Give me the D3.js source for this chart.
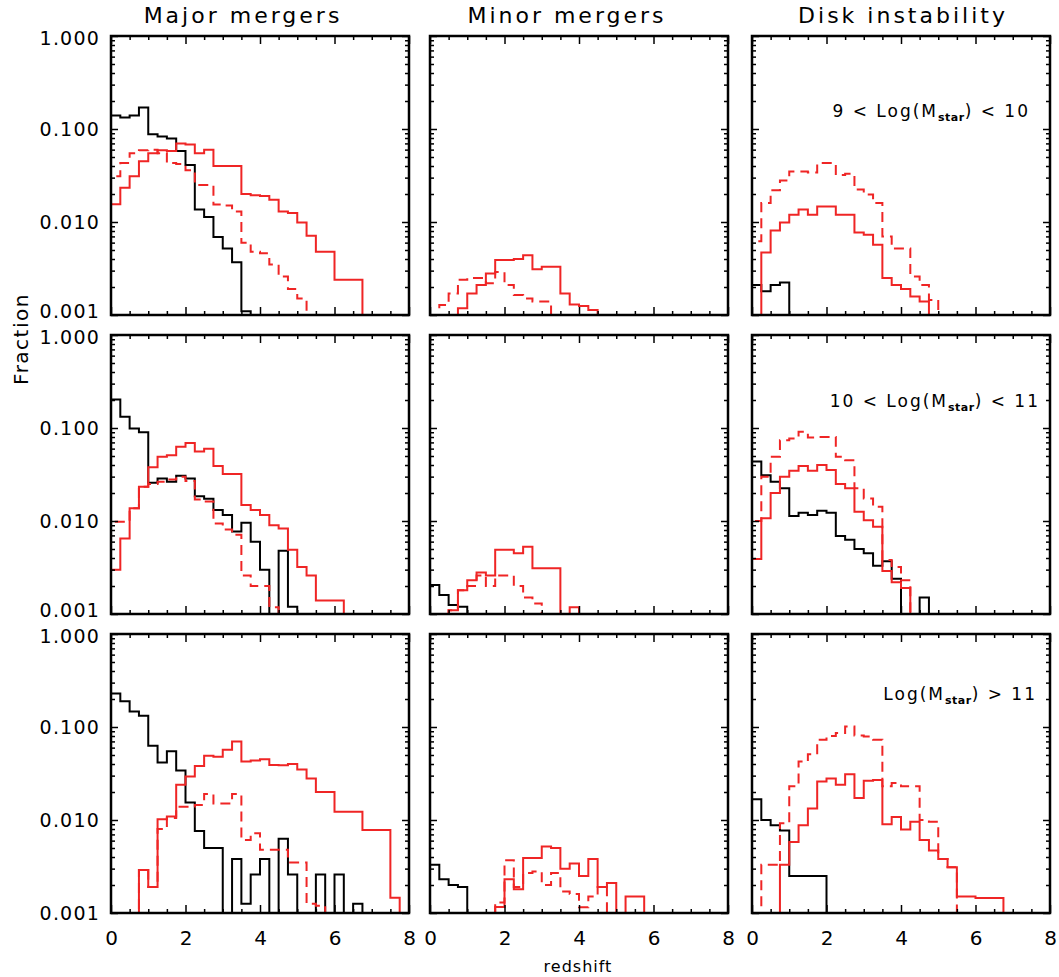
<!DOCTYPE html>
<html>
<head>
<meta charset="utf-8">
<script src="https://cdn.jsdelivr.net/npm/d3@7"></script>
<style>
body { margin: 0; background: #fff; }
svg text { font-family: "DejaVu Sans", sans-serif; fill: #000; }
.title { font-size: 22px; letter-spacing: 3px; }
.ylab text { font-size: 19px; letter-spacing: 1.2px; }
.xlab text { font-size: 20px; }
.mass { font-size: 17px; letter-spacing: 2px; }
.mass .sub { font-size: 11px; font-weight: bold; letter-spacing: 0.5px; }
</style>
</head>
<body>
<div id="chart"></div>
<script>
var W = 1059, H = 977;

// redshift bin edges shared by every histogram
var binEdges = [0, 0.25, 0.5, 0.75, 1, 1.25, 1.5, 1.75, 2, 2.25, 2.5, 2.75, 3, 3.25, 3.5, 3.75,
                4, 4.25, 4.5, 4.75, 5, 5.25, 5.5, 5.75, 6, 6.25, 6.5, 6.75, 7, 7.25, 7.5, 7.75, 8];

var columnTitles = ["Major mergers", "Minor mergers", "Disk instability"];
// mass bin labels: text before the subscript, subscript, text after
var massPre = ["9 < Log(M", "10 < Log(M", "Log(M"];
var massSub = ["star", "star", "star"];
var massPost = [") < 10", ") < 11", ") > 11"];

var yTickValues = [1, 0.1, 0.01, 0.001];
var xTickValues = [0, 2, 4, 6, 8];

// fraction per bin; bins past the end of a list are empty
// 9 < log M < 10
var majorLowBlack = [0.14, 0.133, 0.14, 0.17, 0.088, 0.083, 0.079, 0.058, 0.041, 0.0136, 0.0113, 0.0069, 0.0052, 0.0037, 0.0011];
var majorLowRed = [0.0155, 0.0233, 0.031, 0.045, 0.055, 0.059, 0.058, 0.070, 0.068, 0.055, 0.060, 0.040, 0.040, 0.040, 0.020, 0.0194,
                   0.019, 0.0174, 0.013, 0.0125, 0.0099, 0.0071, 0.0048, 0.0048, 0.0024, 0.0024, 0.0024];
var majorLowDash = [0.031, 0.043, 0.055, 0.059, 0.060, 0.055, 0.043, 0.042, 0.036, 0.025, 0.025, 0.0154, 0.015, 0.013, 0.006, 0.0048,
                    0.0046, 0.0035, 0.0026, 0.0019, 0.0015];
var minorLowBlack = [];
var minorLowRed = [0, 0, 0, 0.00118, 0.0017, 0.0021, 0.0028, 0.0039, 0.0039, 0.004, 0.0044, 0.0031, 0.0033, 0.0033, 0.0017, 0.0013, 0.00125, 0.00113];
var minorLowDash = [0, 0.00128, 0.0017, 0.0024, 0.0025, 0.0025, 0.0022, 0.0029, 0.0021, 0.00164, 0.0015, 0.0014, 0.0014];
var diskLowBlack = [0.0021, 0.0018, 0.0021, 0.00223];
var diskLowRed = [0, 0.0047, 0.0081, 0.0099, 0.012, 0.0136, 0.012, 0.0147, 0.0147, 0.012, 0.012, 0.0077, 0.0073, 0.0057, 0.0025, 0.0021,
                  0.0019, 0.00158, 0.0014];
var diskLowDash = [0.0062, 0.016, 0.0219, 0.028, 0.035, 0.035, 0.034, 0.043, 0.043, 0.032, 0.033, 0.0223, 0.0197, 0.016, 0.007, 0.0052,
                   0.0052, 0.0026, 0.0021, 0.00145];

// 10 < log M < 11
var majorMidBlack = [0.203, 0.132, 0.099, 0.090, 0.0258, 0.0286, 0.0265, 0.0307, 0.0286, 0.0184, 0.0173, 0.0131, 0.0116, 0.0077, 0.0096, 0.006,
                     0.003, 0, 0.0048, 0.0012];
var majorMidRed = [0.003, 0.0065, 0.0137, 0.0234, 0.0378, 0.049, 0.051, 0.063, 0.069, 0.056, 0.060, 0.039, 0.032, 0.032, 0.0149, 0.0131,
                   0.0116, 0.009, 0.0083, 0.0049, 0.0032, 0.0026, 0.0014, 0.0014, 0.0014];
var majorMidDash = [0.0098, 0.0098, 0.0137, 0.0234, 0.025, 0.0265, 0.028, 0.030, 0.027, 0.017, 0.0162, 0.0094, 0.0081, 0.0071, 0.0026, 0.002,
                    0.002, 0.00118];
var minorMidBlack = [0.00205, 0.0016, 0.00125, 0.0012];
var minorMidRed = [0, 0, 0.0011, 0.0018, 0.0023, 0.0028, 0.0026, 0.0049, 0.0049, 0.0045, 0.0053, 0.0031, 0.0031, 0.0031, 0, 0.00118];
var minorMidDash = [0, 0, 0.0011, 0.0018, 0.002, 0.0026, 0.002, 0.0026, 0.0026, 0.002, 0.0015, 0.0013];
var diskMidBlack = [0.0435, 0.031, 0.0265, 0.0225, 0.0113, 0.0123, 0.0116, 0.0129, 0.0123, 0.0069, 0.0063, 0.005, 0.0045, 0.0033, 0.0037, 0.0024,
                    0, 0, 0.0015];
var diskMidRed = [0.0039, 0.0107, 0.020, 0.030, 0.0346, 0.039, 0.0346, 0.040, 0.0354, 0.025, 0.0225, 0.0126, 0.0102, 0.0087, 0.0029, 0.0022, 0.0019];
var diskMidDash = [0.01, 0.030, 0.049, 0.074, 0.077, 0.091, 0.079, 0.080, 0.080, 0.049, 0.045, 0.0225, 0.0175, 0.0142, 0.0038, 0.0032, 0.0023];

// log M > 11
var majorHighBlack = [0.229, 0.189, 0.147, 0.132, 0.063, 0.0415, 0.055, 0.034, 0.0154, 0.0076, 0.005, 0.005, 0, 0.0038, 0.00126, 0.0026,
                      0.0038, 0, 0.0063, 0.0026, 0, 0, 0.0026, 0, 0.0026, 0, 0.00126];
var majorHighRed = [0, 0, 0, 0.0029, 0.0019, 0.0102, 0.0109, 0.024, 0.0293, 0.038, 0.049, 0.048, 0.057, 0.070, 0.0425, 0.0435,
                    0.045, 0.039, 0.0387, 0.040, 0.035, 0.028, 0.020, 0.020, 0.0123, 0.0123, 0.0123, 0.0078, 0.0078, 0.0078, 0.00146, 0];
var majorHighDash = [0, 0, 0, 0.0029, 0.0019, 0.008, 0.0105, 0.0139, 0.0139, 0.0145, 0.019, 0.015, 0.015, 0.019, 0.0061, 0.0072,
                     0.0048, 0.0048, 0.0048, 0.0035, 0.0035, 0.00126, 0.0012];
var minorHighBlack = [0.0033, 0.0023, 0.002, 0.0019];
var minorHighRed = [0, 0, 0, 0, 0, 0, 0, 0.00116, 0.0023, 0.0018, 0.0039, 0.0039, 0.0052, 0.005, 0.003, 0.0034,
                    0.0025, 0.0038, 0.0019, 0.0021, 0, 0.0015, 0.0015];
var minorHighDash = [0, 0, 0, 0, 0, 0, 0, 0.0013, 0.0037, 0.0019, 0.0027, 0.0028, 0.002, 0.0027, 0.0017, 0.0016,
                     0.00115, 0.0015, 0.0019];
var diskHighBlack = [0.0167, 0.01, 0.0088, 0.0077, 0.0025, 0.0025, 0.0025, 0.0025];
var diskHighRed = [0, 0, 0, 0.0033, 0.0058, 0.0088, 0.0133, 0.026, 0.028, 0.024, 0.031, 0.0172, 0.0264, 0.027, 0.009, 0.0108,
                   0.0079, 0.0096, 0.0061, 0.0047, 0.0038, 0.0031, 0.0015, 0.0015, 0.00145, 0.00145, 0.00145];
var diskHighDash = [0, 0.0033, 0.0033, 0.0092, 0.023, 0.0425, 0.051, 0.073, 0.080, 0.086, 0.101, 0.081, 0.079, 0.073, 0.023, 0.025,
                    0.023, 0.023, 0.01, 0.0096, 0.0038, 0.0031];

var panels = [
  [majorLowBlack, majorLowRed, majorLowDash], [minorLowBlack, minorLowRed, minorLowDash], [diskLowBlack, diskLowRed, diskLowDash],
  [majorMidBlack, majorMidRed, majorMidDash], [minorMidBlack, minorMidRed, minorMidDash], [diskMidBlack, diskMidRed, diskMidDash],
  [majorHighBlack, majorHighRed, majorHighDash], [minorHighBlack, minorHighRed, minorHighDash], [diskHighBlack, diskHighRed, diskHighDash]
];

// layout
var colX = [111, 430, 752], rowY = [36, 335, 634];
var pw = 298, ph = 279;
var titleX = [243, 567, 903];
var massRight = [-20, -10, -13], massBase = [81, 72, 66];
var red = "#ef2525";

var svg = d3.select("#chart").append("svg")
    .attr("width", W)
    .attr("height", H);

var x = d3.scaleLinear().domain([0, 8]).range([0, pw]);
var y = d3.scaleLog().domain([0.001, 1]).range([ph, 0]);

var yMinor = y.ticks().filter(function(d) { return yTickValues.indexOf(d) < 0; });
var xMinor = x.ticks(16).filter(function(d) { return xTickValues.indexOf(d) < 0; });

var step = d3.line()
    .x(function(d) { return x(d[0]); })
    .y(function(d) { return y(Math.max(d[1], 0.001)); })
    .curve(d3.curveStepAfter);

function histPoints(vals) {
    var n = binEdges.length - 1;
    var pts = [[0, 0]];
    for (var i = 0; i < n; i++) pts.push([binEdges[i], vals[i] || 0]);
    pts.push([8, vals[n - 1] || 0]);
    pts.push([8, 0]);
    return pts;
}

function tidy(g) {
    g.attr("font-size", null).attr("font-family", null);
    g.select(".domain").remove();
    g.selectAll("line").attr("stroke-width", 1.5);
}

svg.append("defs").append("clipPath").attr("id", "plotclip")
    .append("rect").attr("width", pw).attr("height", ph);

panels.forEach(function(series, p) {
    var row = Math.floor(p / 3), col = p % 3;
    var g = svg.append("g")
        .attr("transform", "translate(" + colX[col] + "," + rowY[row] + ")");

    var plot = g.append("g").attr("clip-path", "url(#plotclip)");
    plot.append("path").datum(histPoints(series[0]))
        .attr("d", step).attr("fill", "none").attr("stroke", "#000").attr("stroke-width", 2);
    plot.append("path").datum(histPoints(series[2]))
        .attr("d", step).attr("fill", "none").attr("stroke", red).attr("stroke-width", 2)
        .attr("stroke-dasharray", "10,6");
    plot.append("path").datum(histPoints(series[1]))
        .attr("d", step).attr("fill", "none").attr("stroke", red).attr("stroke-width", 2);

    // x ticks, top and bottom, pointing inward
    g.append("g").attr("class", "xlab").attr("transform", "translate(0," + ph + ")")
        .call(d3.axisBottom(x).tickValues(xTickValues).tickSizeInner(-8).tickSizeOuter(0).tickPadding(18)
            .tickFormat(row === 2 ? d3.format("d") : function() { return ""; }))
        .call(tidy);
    g.append("g").attr("transform", "translate(0," + ph + ")")
        .call(d3.axisBottom(x).tickValues(xMinor).tickSizeInner(-4).tickSizeOuter(0).tickFormat(""))
        .call(tidy);
    g.append("g")
        .call(d3.axisTop(x).tickValues(xTickValues).tickSizeInner(-8).tickSizeOuter(0).tickFormat(""))
        .call(tidy);
    g.append("g")
        .call(d3.axisTop(x).tickValues(xMinor).tickSizeInner(-4).tickSizeOuter(0).tickFormat(""))
        .call(tidy);

    // y ticks, left and right, pointing inward
    var yl = g.append("g").attr("class", "ylab")
        .call(d3.axisLeft(y).tickValues(yTickValues).tickSizeInner(-7).tickSizeOuter(0).tickPadding(11)
            .tickFormat(col === 0 ? d3.format(".3f") : function() { return ""; }))
        .call(tidy);
    // lift the bottom label a little where the next row's top label sits just below it
    if (row < 2) {
        yl.selectAll(".tick").filter(function(d) { return d === 0.001; })
            .select("text").attr("y", -4);
        yl.selectAll(".tick").filter(function(d) { return d === 1; })
            .select("text").attr("y", 2);
    } else {
        yl.selectAll(".tick").filter(function(d) { return d === 1; })
            .select("text").attr("y", 2);
    }
    g.append("g")
        .call(d3.axisLeft(y).tickValues(yMinor).tickSizeInner(-4).tickSizeOuter(0).tickFormat(""))
        .call(tidy);
    g.append("g").attr("transform", "translate(" + pw + ",0)")
        .call(d3.axisRight(y).tickValues(yTickValues).tickSizeInner(-7).tickSizeOuter(0).tickFormat(""))
        .call(tidy);
    g.append("g").attr("transform", "translate(" + pw + ",0)")
        .call(d3.axisRight(y).tickValues(yMinor).tickSizeInner(-4).tickSizeOuter(0).tickFormat(""))
        .call(tidy);

    g.append("rect")
        .attr("width", pw).attr("height", ph)
        .attr("fill", "none").attr("stroke", "#000").attr("stroke-width", 2.5);

    if (col === 2) {
        var t = g.append("text").attr("class", "mass")
            .attr("x", pw + massRight[row]).attr("y", massBase[row])
            .attr("text-anchor", "end");
        t.append("tspan").text(massPre[row]);
        t.append("tspan").attr("class", "sub").attr("dy", 4).text(massSub[row]);
        t.append("tspan").attr("dy", -4).text(massPost[row]);
    }
});

columnTitles.forEach(function(name, c) {
    svg.append("text").attr("class", "title")
        .attr("x", titleX[c]).attr("y", 23)
        .attr("text-anchor", "middle")
        .text(name);
});

svg.append("text")
    .attr("transform", "translate(28,339)rotate(-90)")
    .attr("text-anchor", "middle")
    .style("font-size", "20px").style("letter-spacing", "1.5px")
    .text("Fraction");

svg.append("text")
    .attr("x", 578).attr("y", 972)
    .attr("text-anchor", "middle")
    .style("font-size", "16px").style("letter-spacing", "1px")
    .text("redshift");
</script>
</body>
</html>
